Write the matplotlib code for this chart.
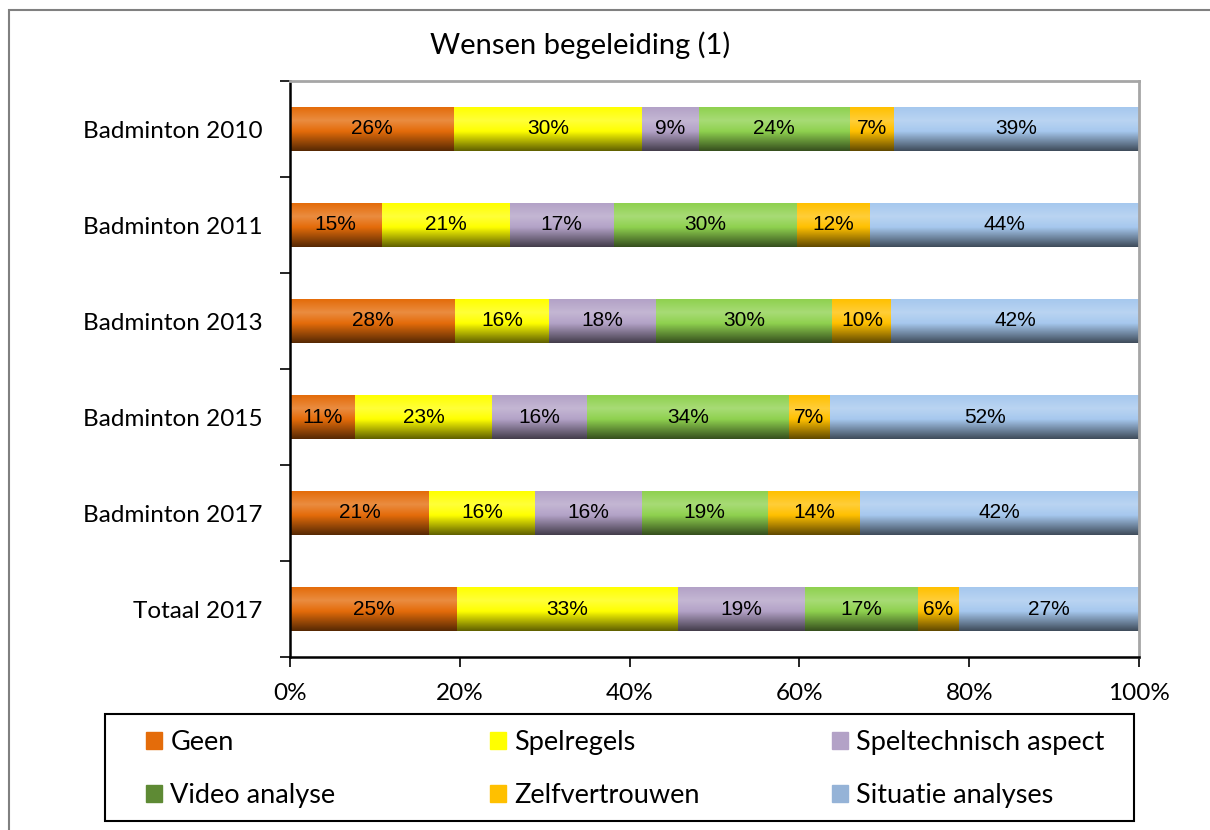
import numpy as np
import matplotlib; matplotlib.use("Agg")
import matplotlib.pyplot as plt
from matplotlib.colors import to_rgb
from matplotlib.patches import Rectangle

# ---- data (percent of respondents per wish, multiple answers allowed) ----
categories = ["Badminton 2010", "Badminton 2011", "Badminton 2013",
              "Badminton 2015", "Badminton 2017", "Totaal 2017"]
series = ["Geen", "Spelregels", "Speltechnisch aspect",
          "Video analyse", "Zelfvertrouwen", "Situatie analyses"]
geen = [26, 15, 28, 11, 21, 25]
spelregels = [30, 21, 16, 23, 16, 33]
speltechnisch = [9, 17, 18, 16, 16, 19]
video = [24, 30, 30, 34, 19, 17]
zelfvertrouwen = [7, 12, 10, 7, 14, 6]
situatie = [39, 44, 42, 52, 42, 27]
xticks = [0, 20, 40, 60, 80, 100]

colors = ["#E46C0A", "#FFFF00", "#B3A2C7", "#8FD14F", "#FFC000", "#A6C8EE"]
legend_colors = ["#E46C0A", "#FFFF00", "#B3A2C7", "#5E8A34", "#FFC000", "#95B3D7"]

LABEL_FONT = ["Lato", "DejaVu Sans"]
BAR_FONT = ["Liberation Sans Narrow", "Liberation Sans", "DejaVu Sans"]

vals = np.array([geen, spelregels, speltechnisch, video, zelfvertrouwen, situatie], float)
share = vals / vals.sum(0) * 100          # 100% stacked

def gradient(rgb, n=64):
    # excel-2007 style: light band near top, dark at the bottom
    t = np.linspace(0, 1, n)
    v = np.interp(t, [0, 0.3, 0.55, 1], [0.0, 0.22, 0.0, -0.62])
    c = np.array(rgb)[None, :]
    up = c + (1 - c) * np.clip(v, 0, None)[:, None]
    down = c * (1 + np.clip(v, None, 0))[:, None]
    out = np.where(v[:, None] >= 0, up, down)
    return out[:, None, :]

fig = plt.figure(figsize=(12.1, 8.3), dpi=100)
ax = fig.add_axes([290/1210, 1 - 657/830, 849/1210, 576/830])

pos = np.arange(len(categories))[::-1]
h = 0.45
left = np.zeros(len(categories))
for k, name in enumerate(series):
    bars = ax.barh(pos, share[k], left=left, height=h, color="none", edgecolor="none")
    img = gradient(to_rgb(colors[k]))
    for b, p in zip(bars, vals[k]):
        x0, y0 = b.get_x(), b.get_y()
        ax.imshow(img, extent=(x0, x0 + b.get_width(), y0, y0 + b.get_height()),
                  origin="upper", aspect="auto", zorder=2, interpolation="bilinear")
        ax.text(x0 + b.get_width() / 2, y0 + b.get_height() / 2, f"{p:.0f}%",
                ha="center", va="center", fontsize=15, family=BAR_FONT, zorder=3)
    left += share[k]

ax.set_xlim(0, 100)
ax.set_ylim(-0.5, len(categories) - 0.5)
ax.set_aspect("auto")
ax.set_xticks(xticks)
ax.set_xticklabels([f"{t}%" for t in xticks], family=LABEL_FONT, fontsize=17.5)
ax.set_yticks(pos)
ax.set_yticklabels(categories, family=LABEL_FONT, fontsize=17.5)
ax.tick_params(axis="y", which="major", length=0, pad=20)
ax.set_yticks(np.arange(-0.5, len(categories), 1), minor=True)
ax.tick_params(axis="y", which="minor", length=7, width=1.2, direction="out")
ax.tick_params(axis="x", length=7, width=1.2, direction="out", pad=12)
for s in ["left", "bottom"]:
    ax.spines[s].set_linewidth(1.8)
    ax.spines[s].set_color("black")
for s in ["top", "right"]:
    ax.spines[s].set_linewidth(2)
    ax.spines[s].set_color("#A6A6A6")

fig.text(580/1210, 1 - 45/830, "Wensen begeleiding (1)", ha="center", va="center",
         fontsize=21, family=LABEL_FONT)

# legend: three equal-width columns (one legend per column) inside one frame
col_x = [146, 490, 832]
for c, x in enumerate(col_x):
    idx = [c, c + 3]
    handles = [Rectangle((0, 0), 1, 1, color=legend_colors[i]) for i in idx]
    fig.legend(handles, [series[i] for i in idx], loc="upper left",
               bbox_to_anchor=(x/1210, 1 - 730/830), frameon=False,
               prop={"family": LABEL_FONT, "size": 19.5},
               handlelength=0.6, handleheight=0.6, handletextpad=0.3,
               labelspacing=1.05, borderpad=0, borderaxespad=0)
fig.patches.append(Rectangle((105/1210, 1 - 821/830), 1029/1210, 107/830,
                             transform=fig.transFigure, fill=False,
                             edgecolor="black", linewidth=1.5))

# outer chart frame
fig.patches.append(Rectangle((9/1210, -0.05), 1.1, 1 - 10/830 + 0.05,
                             transform=fig.transFigure, fill=False,
                             edgecolor="#808080", linewidth=1.5))

fig.savefig("out.png", dpi=100)
